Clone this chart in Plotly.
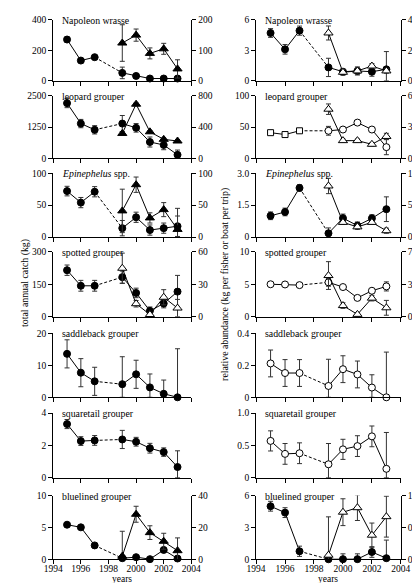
import plotly.graph_objects as go

W, H = 420, 583
FONT = "Liberation Serif"

years = [1995, 1996, 1997, 1999, 2000, 2001, 2002, 2003]
years_late = [1999, 2000, 2001, 2002, 2003]
x_ticks = [1994, 1996, 1998, 2000, 2002, 2004]

species = ["Napoleon wrasse", "leopard grouper", "<i>Epinephelus</i> spp.", "spotted grouper",
           "saddleback grouper", "squaretail grouper", "bluelined grouper"]

# ---------- left column: total annual catch (kg) ----------
nap_catch_a = [271, 133, 155, 52, 32, 15, 15, 15]
nap_catch_a_err = [17, 12, 10, 38, 15, 12, 12, 10]
nap_catch_b = [124, 150, 90, 105, 39]
nap_catch_b_err = [60, 20, 18, 18, 30]

leo_catch_a = [2199, 1387, 1139, 1387, 1217, 654, 537, 144]
leo_catch_a_err = [180, 165, 165, 320, 170, 200, 190, 190]
leo_catch_b = [318, 690, 339, 243, 222]
leo_catch_b_err = [20, 15, 15, 15, 15]

epi_catch_a = [72, 54, 71, 14, 31, 11, 14, 17]
epi_catch_a_err = [7.5, 8, 8, 12, 8, 8, 8, 16]
epi_catch_b = [41, 82, 30, 43, 12]
epi_catch_b_err = [34, 12, 8, 11, 33]

spo_catch_a = [215, 143, 143, 183, 110, 27, 61, 116]
spo_catch_a_err = [24, 25, 25, 28, 22, 18, 20, 75]
spo_catch_b = [44.8, 12, 2, 18, 8]
spo_catch_b_err = [14, 3, 2, 7, 8]

sad_catch = [13.6, 7.7, 5.0, 4.1, 7.2, 3.1, 1.1, 0]
sad_catch_err = [4.4, 4.4, 4.4, 8.6, 4.4, 4.2, 4.3, 15.2]

squ_catch = [3.32, 2.27, 2.31, 2.37, 2.23, 1.83, 1.59, 0.67]
squ_catch_err = [0.28, 0.27, 0.3, 0.56, 0.27, 0.3, 0.26, 1.0]

blu_catch_a = [5.44, 5.03, 2.2, 0.2, 0.36, 0.05, 1.49, 0.15]
blu_catch_a_err = [0.2, 0.2, 0.2, 0.2, 0.2, 0.15, 0.3, 0.2]
blu_catch_b = [2.05, 28.3, 16.8, 11.4, 5.5]
blu_catch_b_err = [15.6, 5, 4.3, 5, 8]

# ---------- right column: relative abundance ----------
nap_abund_a = [4.71, 3.10, 4.94, 1.32, 0.9, 0.97, 0.9, 1.13]
nap_abund_a_err = [0.43, 0.47, 0.45, 0.9, 0.2, 0.4, 0.45, 1.75]
nap_abund_b = [31.4, 5.6, 6.5, 9.7, 6.5]
nap_abund_b_err = [4.6, 2, 2, 1.6, 1.5]

leo_abund_a = [41, 38, 44, 44, 46, 57, 46, 18]
leo_abund_a_err = [2, 2, 2, 7, 3, 3, 3, 12]
leo_abund_b = [47, 17, 17, 13.5, 21]
leo_abund_b_err = [5, 1.5, 1.5, 1.5, 3]

epi_abund_a = [1.0, 1.18, 2.31, 0.18, 0.89, 0.54, 0.88, 1.31]
epi_abund_a_err = [0.18, 0.18, 0.15, 0.25, 0.19, 0.17, 0.17, 0.58]
epi_abund_b = [8.0, 2.3, 1.6, 2.3, 1.0]
epi_abund_b_err = [1.2, 0.3, 0.3, 0.3, 0.4]

spo_abund_a = [5.0, 4.97, 4.87, 5.3, 4.57, 2.9, 4.0, 4.67]
spo_abund_a_err = [0.1, 0.1, 0.1, 0.6, 0.1, 0.1, 0.3, 0.7]
spo_abund_b = [44.4, 12, 2.5, 20, 9.6]
spo_abund_b_err = [15, 3, 2, 3, 8]

sad_abund = [0.212, 0.152, 0.152, 0.071, 0.176, 0.143, 0.061, 0.0]
sad_abund_err = [0.084, 0.084, 0.084, 0.167, 0.084, 0.084, 0.08, 0.283]

squ_abund = [0.57, 0.37, 0.38, 0.21, 0.44, 0.49, 0.64, 0.14]
squ_abund_err = [0.155, 0.16, 0.16, 0.32, 0.155, 0.16, 0.16, 0.56]

blu_abund_a = [5.0, 4.4, 0.77, 0.02, 0.03, 0.03, 0.7, 0.12]
blu_abund_a_err = [0.46, 0.46, 0.48, 0.2, 0.5, 0.5, 0.5, 1.7]
blu_abund_b = [0.067, 0.74, 0.81, 0.38, 0.67]
blu_abund_b_err = [0.6, 0.21, 0.2, 0.19, 0.32]

# axis scales: (max, tick labels)
left_scales = [((400, ["0", "200", "400"]), (200, ["0", "100", "200"])),
               ((2500, ["0", "1250", "2500"]), (800, ["0", "400", "800"])),
               ((100, ["0", "50", "100"]), (100, ["0", "50", "100"])),
               ((300, ["0", "150", "300"]), (60, ["0", "30", "60"])),
               ((20, ["0", "10", "20"]), (20, ["0", "10", "20"])),
               ((4, ["0", "2", "4"]), (4, ["0", "2", "4"])),
               ((10, ["0", "5", "10"]), (40, ["0", "20", "40"]))]
right_scales = [((6, ["0", "3", "6"]), (40, ["0", "20", "40"])),
                ((100, ["0", "50", "100"]), (60, ["0", "30", "60"])),
                ((3.0, ["0", "1.5", "3.0"]), (10, ["0", "5", "10"])),
                ((10, ["0", "5", "10"]), (70, ["0", "35", "70"])),
                ((0.4, ["0", "0.2", "0.4"]), (0.4, ["0", "0.2", "0.4"])),
                ((1.0, ["0", "0.5", "1.0"]), (1.0, ["0", "0.5", "1.0"])),
                ((6, ["0", "3", "6"]), (1.0, ["0", "0.5", "1.0"]))]

# series per panel: (values, errors, style) ; 8 values = left axis, 5 values = right axis
left_series = [
    [(nap_catch_a, nap_catch_a_err, "fc"), (nap_catch_b, nap_catch_b_err, "ft")],
    [(leo_catch_a, leo_catch_a_err, "fc"), (leo_catch_b, leo_catch_b_err, "ft")],
    [(epi_catch_a, epi_catch_a_err, "fc"), (epi_catch_b, epi_catch_b_err, "ft")],
    [(spo_catch_a, spo_catch_a_err, "fc"), (spo_catch_b, spo_catch_b_err, "ot")],
    [(sad_catch, sad_catch_err, "fc")],
    [(squ_catch, squ_catch_err, "fc")],
    [(blu_catch_a, blu_catch_a_err, "fc"), (blu_catch_b, blu_catch_b_err, "ft")],
]
right_series = [
    [(nap_abund_a, nap_abund_a_err, "fc"), (nap_abund_b, nap_abund_b_err, "ot")],
    [(leo_abund_a, leo_abund_a_err, "sq"), (leo_abund_b, leo_abund_b_err, "ot")],
    [(epi_abund_a, epi_abund_a_err, "fc"), (epi_abund_b, epi_abund_b_err, "ot")],
    [(spo_abund_a, spo_abund_a_err, "oc"), (spo_abund_b, spo_abund_b_err, "ot")],
    [(sad_abund, sad_abund_err, "oc")],
    [(squ_abund, squ_abund_err, "oc")],
    [(blu_abund_a, blu_abund_a_err, "fc"), (blu_abund_b, blu_abund_b_err, "ot")],
]

# layout geometry (pixels)
tops = [7, 84, 163, 243, 326, 407, 491]
bots = [69, 148, 228, 309, 391, 473, 556]
col_x = [(37, 182), (250, 402)]

fig = go.Figure()
layout = {}
annotations = []
tickfont = dict(family=FONT, size=9.5, color="black")

def marker_style(style):
    if style == "fc":
        return dict(symbol="circle", size=7, color="black", opacity=1, line=dict(color="black", width=1))
    if style == "ft":
        return dict(symbol="triangle-up", size=8, color="black", opacity=1, line=dict(color="black", width=1))
    if style == "oc":
        return dict(symbol="circle", size=7, color="white", opacity=1, line=dict(color="black", width=1))
    if style == "ot":
        return dict(symbol="triangle-up", size=8, color="white", opacity=1, line=dict(color="black", width=1))
    if style == "sq":
        return dict(symbol=["square"] * 3 + ["circle"] * 5, size=[6] * 3 + [7] * 5, opacity=1,
                    color="white", line=dict(color="black", width=1))

def add_series(xs, ys, es, style, xa, ya):
    xref = "x" if xa == 1 else f"x{xa}"
    yref = "y" if ya == 1 else f"y{ya}"
    line = dict(color="black", width=1)
    if len(xs) == 8:
        fig.add_trace(go.Scatter(x=xs[:3], y=ys[:3], mode="lines", line=line,
                                 xaxis=xref, yaxis=yref, hoverinfo="skip"))
        fig.add_trace(go.Scatter(x=xs[2:4], y=ys[2:4], mode="lines",
                                 line=dict(color="black", width=1, dash="3px,2px"),
                                 xaxis=xref, yaxis=yref, hoverinfo="skip"))
        fig.add_trace(go.Scatter(x=xs[3:], y=ys[3:], mode="lines", line=line,
                                 xaxis=xref, yaxis=yref, hoverinfo="skip"))
    else:
        fig.add_trace(go.Scatter(x=xs, y=ys, mode="lines", line=line,
                                 xaxis=xref, yaxis=yref, hoverinfo="skip"))
    minus = [min(e, v) for v, e in zip(ys, es)]
    fig.add_trace(go.Scatter(x=xs, y=ys, mode="markers", marker=marker_style(style),
                             error_y=dict(type="data", array=es, arrayminus=minus, symmetric=False,
                                          color="#333", thickness=1, width=2.5),
                             cliponaxis=False, xaxis=xref, yaxis=yref))

for c, (scales, series) in enumerate([(left_scales, left_series), (right_scales, right_series)]):
    for r in range(7):
        k = c * 7 + r + 1
        xa, yl, yr = k, k, k + 14
        x0, x1 = col_x[c]
        xdom = [x0 / W, x1 / W]
        ydom = [1 - bots[r] / H, 1 - tops[r] / H]
        xname = "xaxis" if xa == 1 else f"xaxis{xa}"
        ylname = "yaxis" if yl == 1 else f"yaxis{yl}"
        yrname = f"yaxis{yr}"
        xref_anchor = "y" if yl == 1 else f"y{yl}"
        xa_ref = "x" if xa == 1 else f"x{xa}"
        layout[xname] = dict(domain=xdom, range=[1994, 2004], tickvals=x_ticks,
                             ticktext=[str(t) for t in x_ticks],
                             showticklabels=(r == 6), ticks="outside", ticklen=4,
                             ticklabelstandoff=-4,
                             tickcolor="black", showline=True, linecolor="black", linewidth=1,
                             showgrid=False, zeroline=False, anchor=xref_anchor,
                             tickfont=tickfont, fixedrange=True)
        (lmax, ltxt), (rmax, rtxt) = scales[r]
        layout[ylname] = dict(domain=ydom, range=[0, lmax], tickvals=[0, lmax / 2, lmax],
                              ticktext=ltxt, ticks="outside", ticklen=4, tickcolor="black",
                              showline=True, linecolor="black", linewidth=1, showgrid=False,
                              zeroline=False, anchor=xa_ref, tickfont=tickfont, fixedrange=True)
        layout[yrname] = dict(range=[0, rmax], tickvals=[0, rmax / 2, rmax], ticktext=rtxt,
                              side="right", overlaying=("y" if yl == 1 else f"y{yl}"),
                              ticks="outside", ticklen=4, tickcolor="black",
                              showline=True, linecolor="black", linewidth=1, showgrid=False,
                              zeroline=False, anchor=xa_ref, tickfont=tickfont, fixedrange=True)
        for (vals, errs, style) in series[r]:
            if len(vals) == 8:
                add_series(years, vals, errs, style, xa, yl)
            else:
                add_series(years_late, vals, errs, style, xa, yr)
        annotations.append(dict(text=species[r], xref="paper", yref="paper",
                                x=(x0 + 7) / W, y=1 - (tops[r] + 0.5) / H,
                                xanchor="left", yanchor="middle", showarrow=False,
                                font=dict(family=FONT, size=9.8, color="black")))

annotations.append(dict(text="total annual catch (kg)", xref="paper", yref="paper",
                        x=8 / W, y=1 - 275 / H, textangle=-90, showarrow=False,
                        xanchor="center", yanchor="middle",
                        font=dict(family=FONT, size=9.8, color="black")))
annotations.append(dict(text="relative abundance (kg per fisher or boat per trip)",
                        xref="paper", yref="paper", x=218 / W, y=1 - 276 / H, textangle=-90,
                        showarrow=False, xanchor="center", yanchor="middle",
                        font=dict(family=FONT, size=9.8, color="black")))
for xc in (109, 326):
    annotations.append(dict(text="years", xref="paper", yref="paper", x=xc / W, y=1 / H,
                            showarrow=False, xanchor="center", yanchor="bottom",
                            borderpad=0,
                            font=dict(family=FONT, size=9.5, color="black")))

fig.update_layout(width=W, height=H, margin=dict(l=0, r=0, t=0, b=0), showlegend=False,
                  paper_bgcolor="white", plot_bgcolor="white",
                  font=dict(family=FONT, size=9.5, color="black"),
                  annotations=annotations, **layout)

fig.write_html("out.html", config={"displayModeBar": False})
